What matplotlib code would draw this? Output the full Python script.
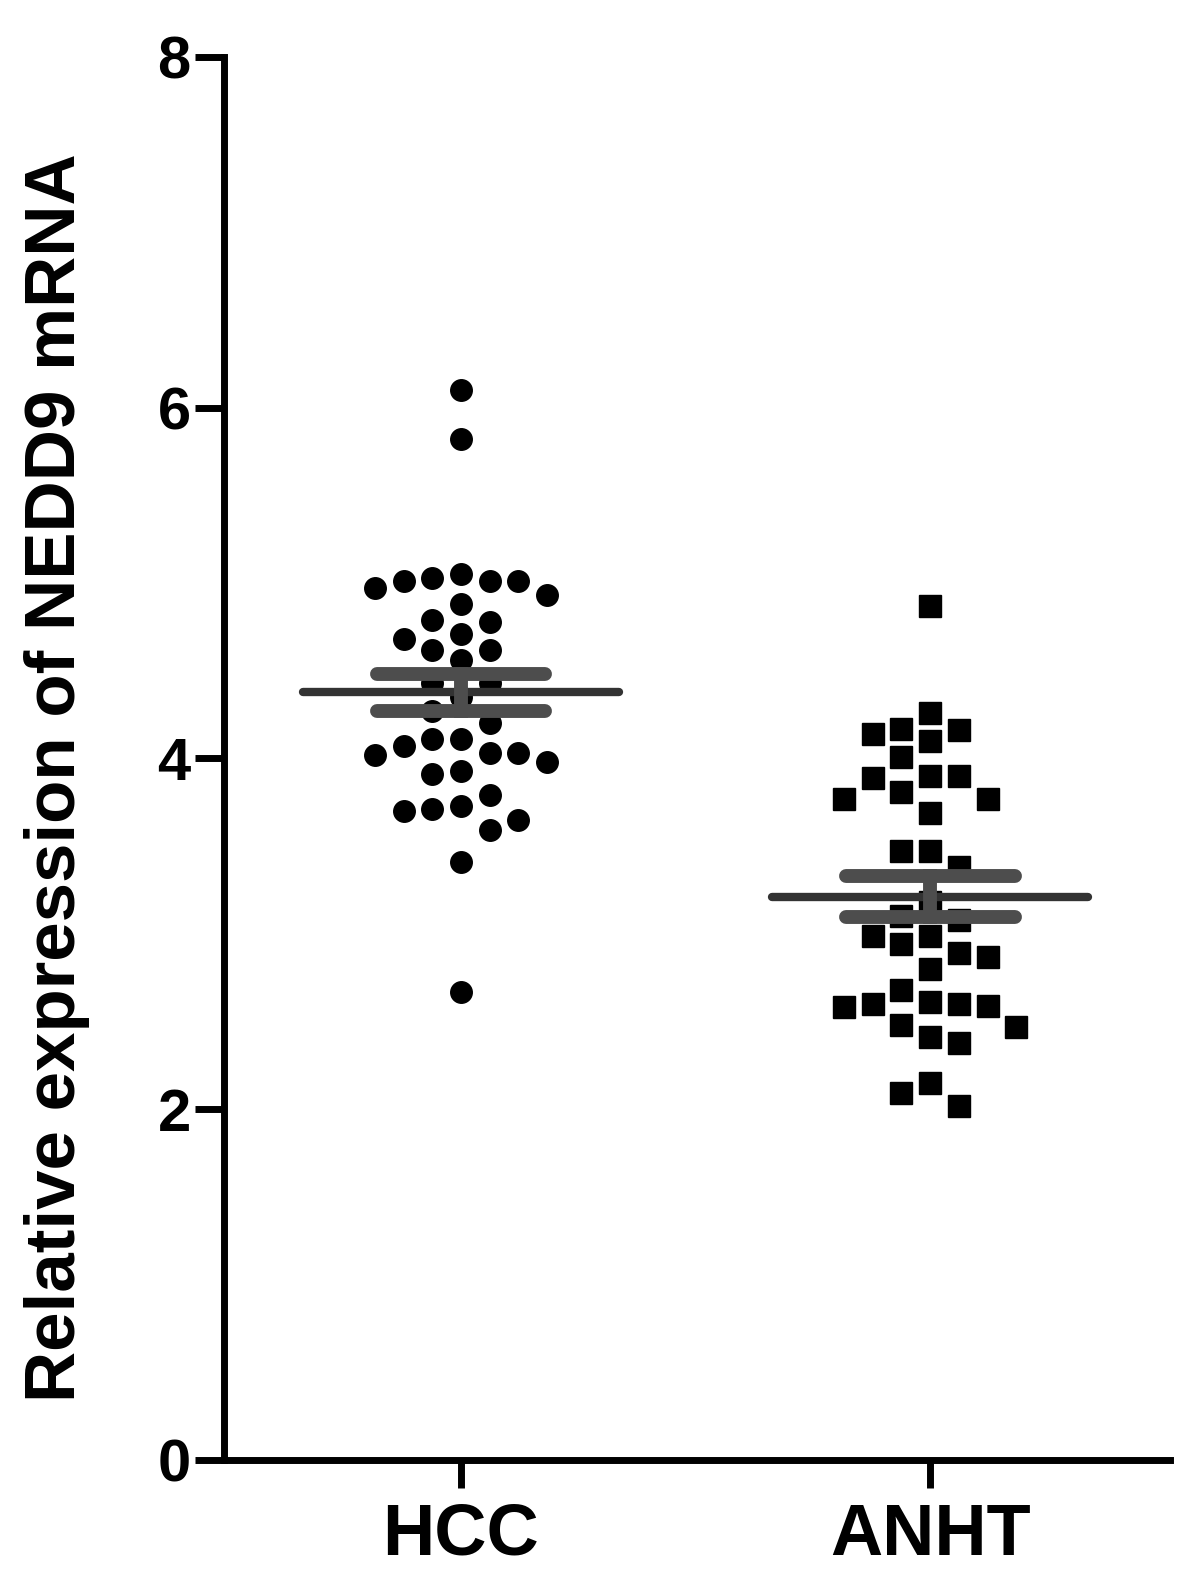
import numpy as np
import matplotlib
matplotlib.use("Agg")
import matplotlib.pyplot as plt

# values
groups = ["HCC", "ANHT"]
hcc = [6.10, 5.82, 5.05, 5.01, 5.01, 4.93, 4.97, 5.01, 5.03, 4.88, 4.79, 4.78, 4.71,
       4.62, 4.62, 4.68, 4.56, 4.43, 4.43, 4.35, 4.27, 4.20, 4.11, 4.07, 4.03, 3.98,
       4.02, 4.03, 4.11, 3.91, 3.93, 3.79, 3.73, 3.70, 3.71, 3.65, 3.59, 3.41, 2.67]
anht = [4.87, 4.26, 4.17, 4.14, 4.10, 4.16, 4.01, 3.90, 3.89, 3.90, 3.81, 3.77, 3.77,
        3.69, 3.47, 3.47, 3.38, 3.08, 3.18, 3.10, 2.99, 2.94, 2.87, 2.99, 2.89, 2.80,
        2.68, 2.61, 2.48, 2.60, 2.58, 2.59, 2.47, 2.60, 2.41, 2.38, 2.15, 2.09, 2.02]
markers = ["o", "s"]
yticks = [0, 2, 4, 6, 8]

plt.rcParams['font.family'] = ['Liberation Sans', 'DejaVu Sans']
plt.rcParams['font.weight'] = 'bold'


def slots():
    yield 0
    k = 1
    while True:
        yield -k
        yield k
        k += 1


def swarm_offsets(values, step, min_dy):
    """Greedy column scatter: each point takes the nearest free slot."""
    values = np.asarray(values)
    offsets = np.zeros(len(values))
    placed = []
    for i in np.argsort(values)[::-1]:
        y = values[i]
        for s in slots():
            if all(ps != s or abs(py - y) >= min_dy for ps, py in placed):
                placed.append((s, y))
                offsets[i] = s * step
                break
    return offsets


fig = plt.figure(figsize=(11.81, 15.82), dpi=100)
ax = fig.add_axes([0.1897, 0.0771, 0.8013, 0.887])

for i, (vals, mk) in enumerate(zip([hcc, anht], markers)):
    x = i + 1
    dx = swarm_offsets(vals, 0.0612, 0.15)
    ax.plot(x + dx, vals, linestyle='none', marker=mk, markersize=15.5,
            color='black', zorder=3)

    # mean and SEM bars
    m = np.mean(vals)
    sem = np.std(vals, ddof=1) / np.sqrt(len(vals))
    ax.plot([x - 0.337, x + 0.337], [m, m], color='#333333', lw=6,
            solid_capstyle='round', zorder=4)
    for yy in (m - sem, m + sem):
        ax.plot([x - 0.18, x + 0.18], [yy, yy], color='#4d4d4d', lw=10,
                solid_capstyle='round', zorder=4)
    ax.plot([x, x], [m - sem, m + sem], color='#4d4d4d', lw=10, zorder=4)

ax.set_xlim(0.495, 2.512)
ax.set_ylim(0, 8)
ax.set_xticks([1, 2])
ax.set_xticklabels(groups)
ax.set_yticks(yticks)

for side in ['top', 'right']:
    ax.spines[side].set_visible(False)
for side in ['left', 'bottom']:
    ax.spines[side].set_linewidth(5)

ax.tick_params(axis='y', direction='out', length=21, width=5, labelsize=43, pad=3)
ax.tick_params(axis='x', direction='out', length=20, width=5, labelsize=52, pad=10)

ax.set_ylabel('Relative expression of NEDD9 mRNA', fontsize=51, fontweight='bold')
ax.yaxis.set_label_coords(-0.1417, 0.486)

fig.savefig('out.png', dpi=100, facecolor='white')
